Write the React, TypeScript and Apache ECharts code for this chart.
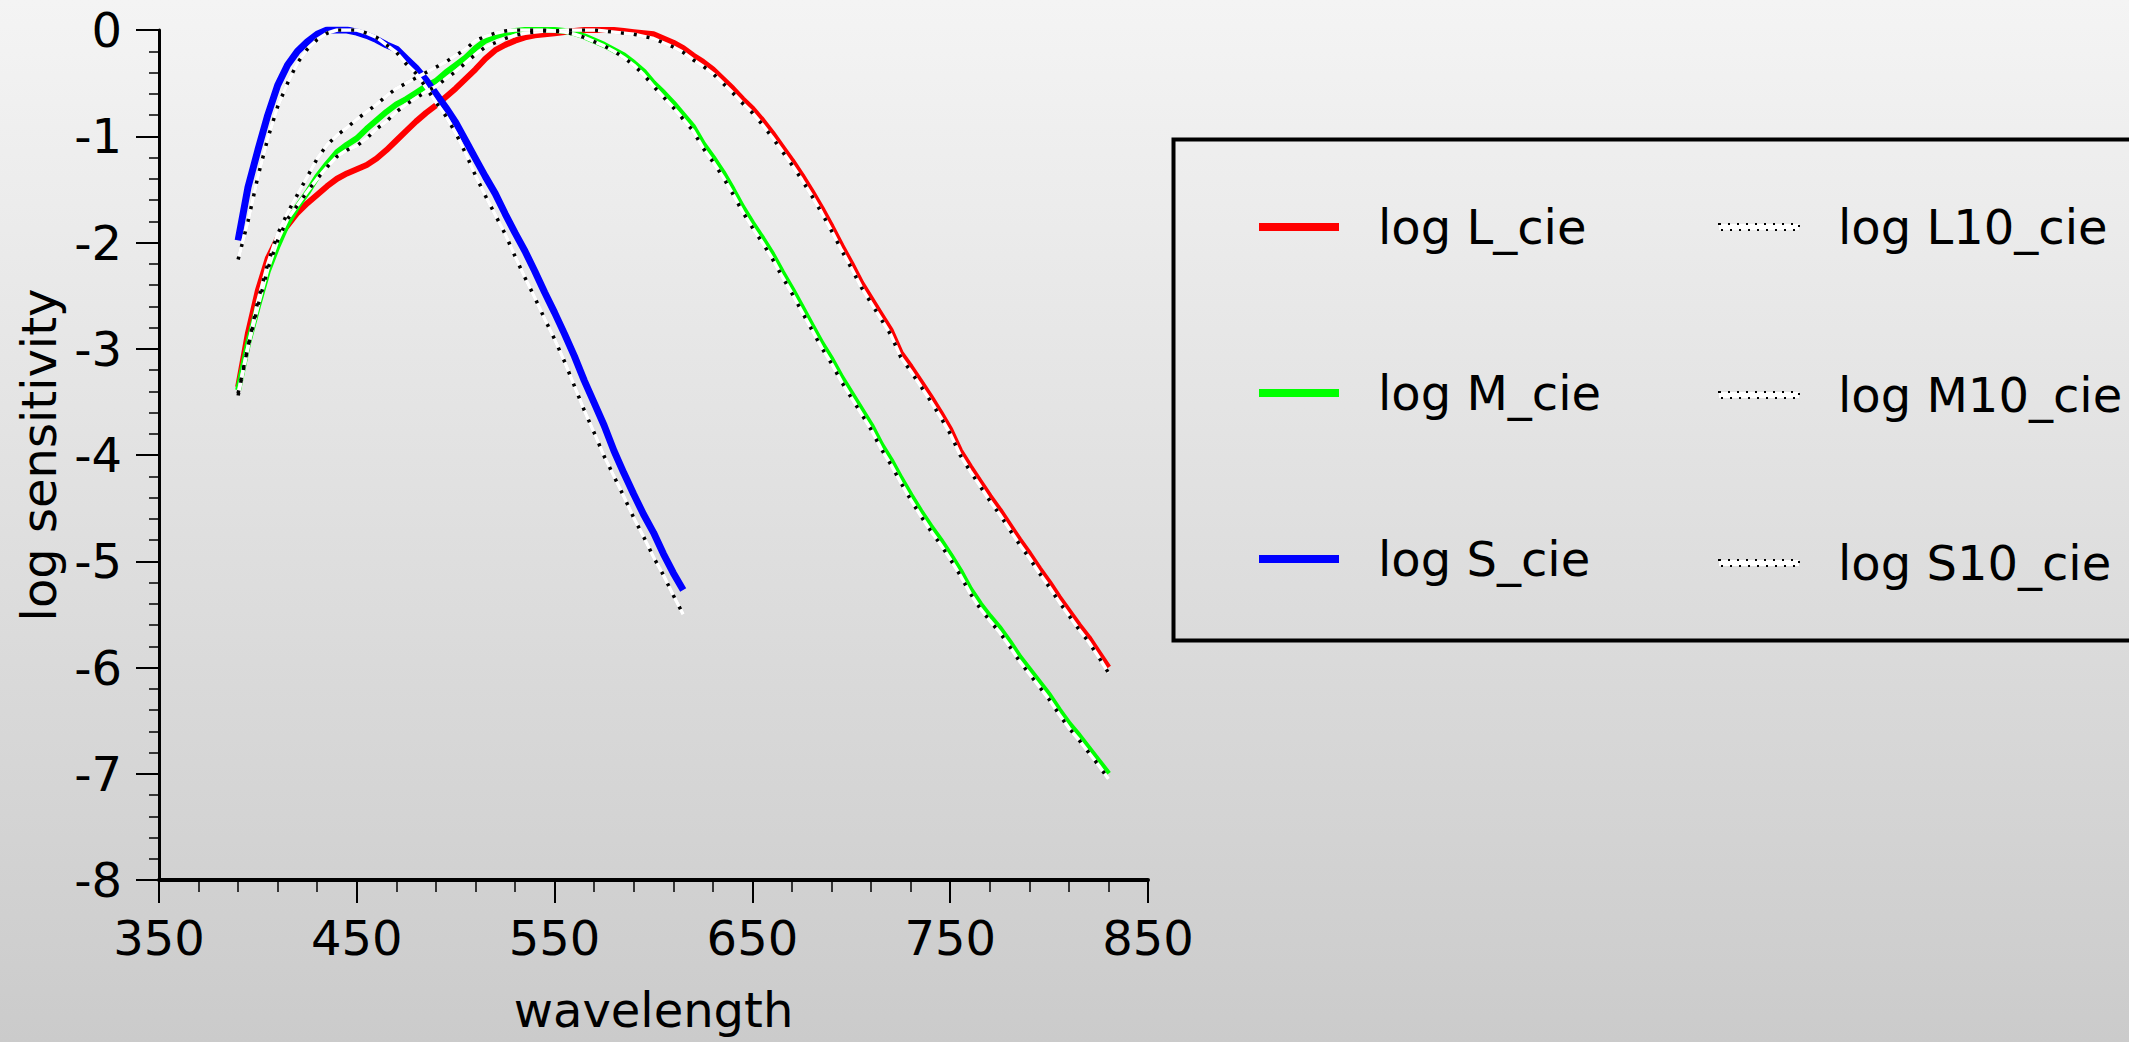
import React, { useEffect, useRef } from "react";
import * as echarts from "echarts";

const WL = [390,395,400,405,410,415,420,425,430,435,440,445,450,455,460,465,470,475,480,485,490,495,500,505,510,515,520,525,530,535,540,545,550,555,560,565,570,575,580,585,590,595,600,605,610,615,620,625,630,635,640,645,650,655,660,665,670,675,680,685,690,695,700,705,710,715,720,725,730,735,740,745,750,755,760,765,770,775,780,785,790,795,800,805,810,815,820,825,830];
const WL_S = [390,395,400,405,410,415,420,425,430,435,440,445,450,455,460,465,470,475,480,485,490,495,500,505,510,515,520,525,530,535,540,545,550,555,560,565,570,575,580,585,590,595,600,605,610,615];

const logL = [-3.36,-2.85,-2.45,-2.15,-1.96,-1.84,-1.72,-1.63,-1.55,-1.47,-1.40,-1.35,-1.31,-1.27,-1.21,-1.13,-1.04,-0.95,-0.86,-0.78,-0.71,-0.63,-0.55,-0.46,-0.37,-0.27,-0.19,-0.14,-0.10,-0.07,-0.05,-0.04,-0.03,-0.02,-0.01,0,0,0,0,-0.01,-0.02,-0.03,-0.04,-0.08,-0.12,-0.17,-0.24,-0.30,-0.37,-0.46,-0.55,-0.65,-0.74,-0.85,-0.97,-1.10,-1.23,-1.37,-1.52,-1.68,-1.85,-2.03,-2.20,-2.38,-2.53,-2.68,-2.83,-3.04,-3.17,-3.31,-3.45,-3.60,-3.76,-3.96,-4.11,-4.25,-4.39,-4.52,-4.66,-4.80,-4.93,-5.07,-5.20,-5.34,-5.47,-5.60,-5.72,-5.86,-6.00];
const logM = [-3.39,-2.95,-2.60,-2.27,-2.03,-1.82,-1.66,-1.53,-1.38,-1.26,-1.15,-1.08,-1.02,-0.93,-0.85,-0.77,-0.70,-0.65,-0.59,-0.53,-0.48,-0.40,-0.33,-0.26,-0.17,-0.10,-0.06,-0.03,-0.01,0,0,0,0,-0.01,-0.03,-0.06,-0.10,-0.14,-0.19,-0.24,-0.31,-0.39,-0.50,-0.59,-0.69,-0.80,-0.91,-1.07,-1.20,-1.34,-1.50,-1.67,-1.82,-1.96,-2.11,-2.28,-2.44,-2.61,-2.78,-2.95,-3.10,-3.27,-3.42,-3.57,-3.72,-3.90,-4.05,-4.22,-4.38,-4.53,-4.67,-4.80,-4.94,-5.09,-5.26,-5.40,-5.52,-5.63,-5.76,-5.90,-6.02,-6.14,-6.26,-6.40,-6.53,-6.64,-6.76,-6.88,-7.00];
const logS = [-1.98,-1.48,-1.13,-0.80,-0.52,-0.33,-0.20,-0.11,-0.04,0,0,0,-0.02,-0.05,-0.09,-0.14,-0.18,-0.27,-0.36,-0.47,-0.60,-0.73,-0.87,-1.04,-1.21,-1.38,-1.54,-1.73,-1.91,-2.08,-2.27,-2.47,-2.66,-2.86,-3.07,-3.30,-3.51,-3.72,-3.96,-4.17,-4.37,-4.56,-4.73,-4.93,-5.11,-5.27];

const logL10 = [-3.42,-2.98,-2.60,-2.25,-1.98,-1.78,-1.65,-1.52,-1.40,-1.29,-1.19,-1.13,-1.09,-1.02,-0.93,-0.86,-0.77,-0.70,-0.64,-0.58,-0.53,-0.46,-0.39,-0.31,-0.23,-0.16,-0.12,-0.08,-0.05,-0.03,-0.02,-0.01,-0.01,0,0,0,0,-0.01,-0.02,-0.03,-0.04,-0.06,-0.08,-0.12,-0.16,-0.21,-0.28,-0.34,-0.41,-0.50,-0.59,-0.69,-0.78,-0.89,-1.01,-1.14,-1.27,-1.41,-1.56,-1.72,-1.89,-2.07,-2.24,-2.42,-2.57,-2.72,-2.87,-3.08,-3.21,-3.35,-3.49,-3.64,-3.80,-4.00,-4.15,-4.29,-4.43,-4.56,-4.70,-4.84,-4.97,-5.11,-5.24,-5.38,-5.51,-5.64,-5.76,-5.90,-6.05];
const logM10 = [-3.44,-2.98,-2.55,-2.20,-1.92,-1.72,-1.55,-1.38,-1.21,-1.08,-0.99,-0.92,-0.84,-0.77,-0.70,-0.62,-0.55,-0.50,-0.45,-0.40,-0.35,-0.30,-0.24,-0.18,-0.10,-0.06,-0.03,-0.01,0,0,0,0,-0.01,-0.02,-0.04,-0.07,-0.11,-0.15,-0.20,-0.26,-0.33,-0.42,-0.53,-0.63,-0.73,-0.84,-0.95,-1.11,-1.24,-1.38,-1.54,-1.71,-1.86,-2.00,-2.15,-2.32,-2.48,-2.65,-2.82,-2.99,-3.14,-3.31,-3.46,-3.61,-3.76,-3.94,-4.09,-4.26,-4.42,-4.57,-4.71,-4.84,-4.98,-5.13,-5.30,-5.44,-5.56,-5.67,-5.80,-5.94,-6.06,-6.18,-6.30,-6.44,-6.57,-6.68,-6.80,-6.92,-7.05];
const logS10 = [-2.16,-1.80,-1.38,-1.02,-0.72,-0.50,-0.31,-0.18,-0.09,-0.03,0,0,0,-0.03,-0.07,-0.14,-0.21,-0.32,-0.41,-0.54,-0.68,-0.81,-0.97,-1.16,-1.37,-1.56,-1.74,-1.92,-2.13,-2.33,-2.52,-2.72,-2.91,-3.12,-3.35,-3.58,-3.79,-4.01,-4.20,-4.39,-4.59,-4.77,-4.96,-5.13,-5.32,-5.50];

const X_TICKS = [350, 450, 550, 650, 750, 850];
const Y_TICKS = [-8, -7, -6, -5, -4, -3, -2, -1, 0];

const FONT = "DejaVu Sans";

function pairs(xs: number[], ys: number[]) {
  return ys.map((v, i) => [xs[i], v]);
}

export default function App() {
  const ref = useRef<HTMLDivElement>(null);
  useEffect(() => {
    if (!ref.current) return;
    const chart = echarts.init(ref.current, null, { renderer: "svg" });
    const solid = (name: string, xs: number[], ys: number[], color: string, width: number) => ({
      type: "line", name, data: pairs(xs, ys), symbol: "none", showSymbol: false,
      lineStyle: { color, width }, itemStyle: { color }, z: 2,
    });
    const under = (xs: number[], ys: number[]) => ({
      type: "line", data: pairs(xs, ys), symbol: "none", showSymbol: false,
      lineStyle: { color: "#ffffff", width: 3.5, shadowColor: "rgba(0,0,0,0.35)", shadowBlur: 1 },
      z: 3, silent: true,
    });
    const dashed = (name: string, xs: number[], ys: number[]) => ({
      type: "line", name, data: pairs(xs, ys), symbol: "none", showSymbol: false,
      lineStyle: { color: "#000000", width: 3.5, type: [3, 10] }, itemStyle: { color: "#000" }, z: 4,
    });
    const legendText = { fontSize: 48, fontFamily: FONT, color: "#000", lineHeight: 56, padding: [0, 0, 0, 34] };
    const dotted = { color: "#ffffff", borderColor: "#000000", borderWidth: 2, borderType: [2, 7] };
    chart.setOption({
      animation: false,
      backgroundColor: "transparent",
      textStyle: { fontFamily: FONT },
      grid: { left: 159, top: 30, width: 989, height: 850, containLabel: false },
      xAxis: {
        type: "value", min: 350, max: 850, interval: 100,
        name: "wavelength", nameLocation: "middle", nameGap: 106,
        nameTextStyle: { fontSize: 48, fontFamily: FONT, color: "#000" },
        axisLine: { onZero: false, lineStyle: { color: "#000", width: 4 } },
        axisTick: { show: true, length: 23, lineStyle: { color: "#000", width: 2 } },
        minorTick: { show: true, splitNumber: 5, length: 12, lineStyle: { color: "#000", width: 1.5 } },
        axisLabel: { fontSize: 48, fontFamily: FONT, color: "#000", margin: 34,
          formatter: (v: number) => (X_TICKS.includes(v) ? String(v) : "") },
        splitLine: { show: false },
      },
      yAxis: {
        type: "value", min: -8, max: 0, interval: 1,
        name: "log sensitivity", nameLocation: "middle", nameGap: 96, nameRotate: 90,
        nameTextStyle: { fontSize: 48, fontFamily: FONT, color: "#000" },
        axisLine: { onZero: false, lineStyle: { color: "#000", width: 3 } },
        axisTick: { show: true, length: 23, lineStyle: { color: "#000", width: 2 } },
        minorTick: { show: true, splitNumber: 5, length: 10, lineStyle: { color: "#000", width: 1.5 } },
        axisLabel: { fontSize: 48, fontFamily: FONT, color: "#000", margin: 37,
          formatter: (v: number) => (Y_TICKS.includes(v) ? String(v) : "") },
        splitLine: { show: false },
      },
      legend: [
        {
          left: 1254, top: 194, orient: "vertical", itemWidth: 80, itemHeight: 8, itemGap: 110,
          icon: "rect",
          data: [
            { name: "log L_cie", itemStyle: { color: "#ff0000" } },
            { name: "log M_cie", itemStyle: { color: "#00ff00" } },
            { name: "log S_cie", itemStyle: { color: "#0000ff" } },
          ],
          textStyle: legendText,
          selectedMode: false,
        },
        {
          left: 1713, top: 194, orient: "vertical", itemWidth: 80, itemHeight: 6, itemGap: 112,
          icon: "rect",
          data: [
            { name: "log L10_cie", itemStyle: dotted },
            { name: "log M10_cie", itemStyle: dotted },
            { name: "log S10_cie", itemStyle: dotted },
          ],
          textStyle: legendText,
          selectedMode: false,
        },
      ],
      graphic: [
        {
          type: "rect", left: 1171, top: 137,
          shape: { x: 0, y: 0, width: 1100, height: 501 },
          style: { fill: "none", stroke: "#000", lineWidth: 4 }, z: 0,
        },
      ],
      series: [
        solid("log L_cie", WL, logL, "#ff0000", 6),
        solid("log M_cie", WL, logM, "#00ff00", 6),
        solid("log S_cie", WL_S, logS, "#0000ff", 7),
        under(WL, logL10),
        under(WL, logM10),
        under(WL_S, logS10),
        dashed("log L10_cie", WL, logL10),
        dashed("log M10_cie", WL, logM10),
        dashed("log S10_cie", WL_S, logS10),
      ],
    });
    return () => chart.dispose();
  }, []);
  return (
    <div
      style={{
        position: "fixed", left: 0, top: 0, width: 2129, height: 1042,
        background: "linear-gradient(to bottom, #f4f4f4 0%, #cbcbcb 100%)",
      }}
    >
      <div ref={ref} style={{ width: 2129, height: 1042 }} />
    </div>
  );
}
